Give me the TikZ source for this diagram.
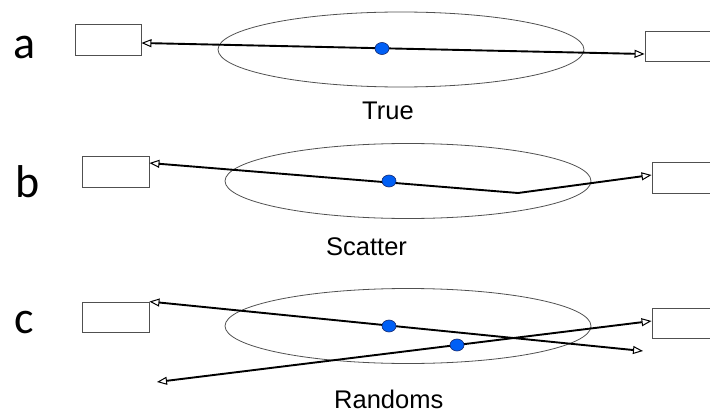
\documentclass[tikz,border=0pt]{standalone}
\usepackage{fontspec}
\setmainfont{Liberation Sans}
\newfontfamily\tagfont{Carlito}
\definecolor{dotblue}{RGB}{0,95,245}
\definecolor{dotrim}{RGB}{20,40,110}
\definecolor{rimgray}{RGB}{80,80,80}
\usetikzlibrary{shapes.geometric,arrows.meta,positioning}

\begin{document}
\begin{tikzpicture}[x=1pt,y=-1pt,
    detector/.style={draw=rimgray, line width=0.9pt, minimum width=66pt, minimum height=31pt, inner sep=0pt},
    ring/.style={ellipse, draw=rimgray, line width=0.8pt, minimum width=366pt, minimum height=75pt, inner sep=0pt},
    event/.style={ellipse, draw=dotrim, fill=dotblue, line width=0.6pt, minimum width=14pt, minimum height=12pt, inner sep=0pt},
    ray/.style={line width=1.9pt, {Triangle[open,length=10pt,width=8pt,line width=1pt]}-{Triangle[open,length=10pt,width=8pt,line width=1pt]}},
    rowtag/.style={anchor=base west, inner sep=0pt, font=\tagfont\fontsize{46}{46}\selectfont},
    caption/.style={anchor=base west, inner sep=0pt, font=\fontsize{25.5}{25.5}\selectfont}]
    \useasboundingbox (0,0) rectangle (710,412);

    % a: true coincidence
    \node[rowtag] (tag-a) at (13,59) {a};
    \node[detector] (box-a-l) at (108,39.5) {};
    \node[detector, minimum width=70pt, minimum height=30pt] (box-a-r) at (680,46) {};
    \node[ring] (ring-a) at (401,49.5) {};
    \coordinate (a-in) at (box-a-l.east |- 0,43);
    \coordinate (a-out) at (box-a-r.west |- 0,54);
    \draw[ray] (a-in) -- (a-out);
    \node[event] (evt-a) at (382,48.5) {};
    \node[caption] (cap-a) at (362,119) {True};

    % b: scatter
    \node[rowtag] (tag-b) at (15,197) {b};
    \node[detector, minimum width=67pt] (box-b-l) at (115.5,171.5) {};
    \node[detector, minimum width=63pt] (box-b-r) at (683.5,177.5) {};
    \node[ring] (ring-b) at (408,181) {};
    \coordinate (b-in) at (box-b-l.east |- 0,163);
    \coordinate (b-kink) at (518,193);
    \coordinate (b-out) at (box-b-r.west |- 0,175);
    \draw[ray] (b-in) -- (b-kink) -- (b-out);
    \node[event] (evt-b) at (389,181) {};
    \node[caption] (cap-b) at (326,255) {Scatter};

    % c: randoms
    \node[rowtag] (tag-c) at (14,333) {c};
    \node[detector, minimum width=67pt, minimum height=30pt] (box-c-l) at (115.5,317) {};
    \node[detector, minimum width=63pt, minimum height=30pt] (box-c-r) at (683.5,323) {};
    \node[ring] (ring-c) at (408,326) {};
    \coordinate (c1-out) at (643,351);
    \coordinate (c2-in) at (157,382);
    \coordinate (c2-out) at (box-c-r.west |- 0,321);
    \draw[ray] (box-c-l.north east) -- (c1-out);
    \draw[ray] (c2-in) -- (c2-out);
    \node[event] (evt-c1) at (389,326) {};
    \node[event] (evt-c2) at (457,345) {};
    \node[caption] (cap-c) at (334,408) {Randoms};
\end{tikzpicture}
\end{document}
